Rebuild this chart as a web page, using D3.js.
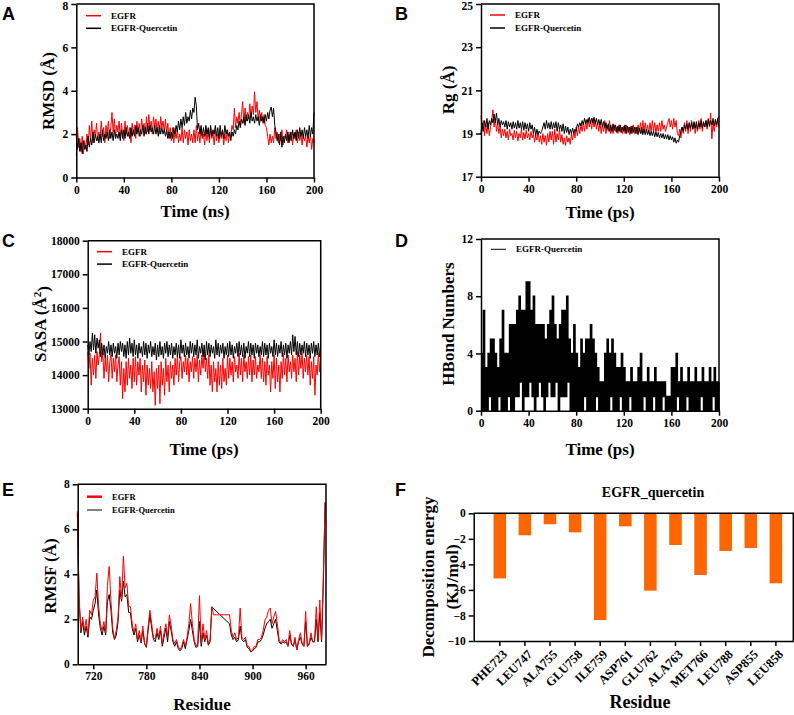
<!DOCTYPE html>
<html>
<head>
<meta charset="utf-8">
<script src="https://cdn.jsdelivr.net/npm/d3@7"></script>
<style>
body{margin:0;background:#fff;}
svg text{font-family:"Liberation Serif","Times New Roman",serif;font-weight:bold;fill:#000;}
svg text.tag{font-family:"Liberation Sans",Arial,sans-serif;font-size:18px;}
</style>
</head>
<body>
<script>
// A: RMSD (Å), one sample per ns
const rmsdApo = [1.0,2.3,1.4,1.8,1.2,1.9,1.1,1.7,1.3,2.0, 1.5,2.4,1.7,2.6,1.6,2.2,1.9,2.5,1.7,2.1,
  1.8,2.6,1.9,2.3,1.6,2.4,2.0,2.6,1.8,2.3, 3.0,2.1,2.7,1.9,2.4,2.1,2.6,1.8,2.5,2.0,
  1.7,2.6,2.0,2.4,1.9,2.3,1.6,2.5,2.0,2.4, 1.8,2.6,2.1,2.5,1.9,2.7,2.2,2.5,2.0,2.8,
  2.1,2.9,2.2,2.6,2.0,2.8,2.3,2.7,2.1,2.6, 2.0,2.8,2.3,2.6,2.1,2.7,2.0,2.5,1.8,2.3,
  1.7,2.3,1.6,2.1,1.8,2.2,1.6,2.0,1.7,2.3, 1.6,2.2,1.8,2.1,1.5,2.2,1.7,2.0,1.6,2.2,
  1.6,2.4,1.7,2.1,1.6,2.3,1.8,2.0,1.5,2.2, 1.7,2.2,1.6,2.3,1.8,2.1,1.5,2.2,1.7,2.0,
  1.6,2.1,1.8,2.2,1.5,2.0,1.7,2.2,1.6,2.0, 1.9,2.4,2.2,3.2,2.3,2.8,2.5,3.0,2.4,2.9,
  3.5,2.5,3.2,2.6,3.0,2.7,3.4,2.8,3.3,2.9, 3.95,3.0,3.5,2.7,3.1,2.6,3.0,2.5,2.9,2.4,
  2.3,1.9,1.5,2.0,1.6,1.9,1.6,2.3,1.8,2.1, 1.6,2.0,1.7,2.2,1.5,1.9,1.8,2.2,1.6,2.0,
  1.7,2.1,1.5,2.0,1.8,2.2,1.6,2.1,1.7,2.0, 1.5,2.0,1.7,1.9,1.4,1.9,1.6,2.0,1.3,1.8, 1.6];
const rmsdComplex = [1.9,1.3,1.8,1.2,1.6,1.1,1.7,1.3,1.5,1.2, 1.9,1.4,1.8,1.5,2.1,1.6,2.0,1.7,1.9,1.6,
  2.0,1.6,2.2,1.7,2.0,1.8,2.1,1.7,2.2,1.8, 2.1,1.7,2.2,1.8,2.0,1.8,2.1,1.7,2.2,1.8,
  2.2,1.8,2.3,1.9,2.1,1.8,2.3,1.9,2.2,1.9, 2.4,2.0,2.3,1.9,2.2,2.0,2.4,1.9,2.3,2.0,
  2.5,2.0,2.4,2.1,2.3,2.0,2.4,2.0,2.3,1.9, 2.4,2.0,2.3,2.0,2.2,1.9,2.2,1.8,2.1,1.8,
  2.1,1.8,2.3,2.0,2.4,2.1,2.6,2.2,2.7,2.3, 2.8,2.4,3.0,2.5,2.8,2.6,3.1,2.7,3.2,3.0,
  3.7,3.3,2.2,2.5,2.0,2.4,1.9,2.3,1.9,2.4, 2.0,2.3,1.8,2.4,1.9,2.2,2.0,2.4,1.9,2.3,
  1.8,2.4,1.9,2.2,1.8,2.4,2.0,2.2,1.9,2.1, 1.7,2.1,1.9,2.2,2.0,2.4,2.2,2.6,2.3,2.7,
  2.5,2.8,2.4,2.9,2.6,2.9,2.5,3.0,2.6,2.8, 2.5,2.9,2.6,2.8,2.4,2.9,2.6,2.8,2.5,2.9,
  2.6,3.0,2.7,3.1,3.25,2.8,3.2,2.4,2.1,1.7, 2.0,1.5,2.1,1.4,1.9,1.6,2.0,1.7,2.1,1.6,
  2.1,1.7,2.2,1.8,2.1,1.7,2.2,1.8,2.3,1.9, 2.2,1.8,2.3,1.9,2.2,1.8,2.4,1.9,2.3,2.0, 3.0];

// B: Rg (Å)
const rgApo = [19.85,19.1,19.6,18.9,19.4,19.0,19.5,18.9,19.3,19.6, 20.1,19.3,19.7,19.1,19.5,19.0,19.3,18.8,19.2,18.9,
  19.2,18.8,19.1,18.7,19.2,18.9,19.0,18.7,19.15,18.8, 19.1,18.65,19.0,18.8,19.2,18.7,19.05,18.75,19.15,18.8,
  19.0,18.7,19.1,18.8,19.0,18.6,18.9,18.7,19.1,18.6, 18.9,18.5,19.0,18.6,18.9,18.45,19.0,18.6,19.1,18.7,
  19.1,18.5,19.2,18.6,19.0,18.7,19.2,18.6,18.95,18.5, 18.8,18.45,18.9,18.6,18.8,18.5,19.0,18.7,19.1,18.8,
  19.3,18.9,19.3,19.0,19.4,19.1,19.5,19.1,19.6,19.2, 19.7,19.3,19.6,19.2,19.7,19.3,19.6,19.2,19.5,19.1,
  19.5,19.0,19.4,19.1,19.6,19.0,19.4,19.1,19.6,19.0, 19.3,19.0,19.4,19.1,19.3,19.0,19.4,19.05,19.3,19.0,
  19.35,19.0,19.4,19.05,19.3,18.95,19.35,19.0,19.4,19.0, 19.3,19.0,19.4,19.1,19.5,19.0,19.6,19.1,19.5,19.05,
  19.4,19.0,19.5,19.1,19.6,19.1,19.5,19.0,19.4,19.1, 19.5,19.1,19.6,19.2,19.4,19.1,19.3,19.5,19.7,19.3,
  19.6,19.2,19.7,19.3,19.6,19.0,18.9,19.2,18.8,19.3, 19.0,19.5,19.1,19.6,19.0,19.5,19.1,19.6,19.2,19.5,
  19.0,19.4,19.1,19.6,19.2,19.7,19.1,19.5,19.3,19.6, 19.2,19.7,19.3,19.95,18.75,19.5,19.1,19.6,19.3,19.7, 19.3];
const rgComplex = [19.0,19.5,19.1,19.6,19.3,19.7,19.2,19.6,19.4,19.7, 19.5,19.9,19.5,19.95,19.4,19.7,19.3,19.6,19.4,19.55,
  19.3,19.6,19.2,19.55,19.3,19.5,19.2,19.55,19.25,19.5, 19.2,19.6,19.25,19.5,19.2,19.55,19.15,19.5,19.2,19.45,
  19.1,19.5,19.2,19.4,19.0,19.3,18.9,19.2,18.95,19.1, 19.0,19.1,19.3,19.5,19.2,19.6,19.25,19.5,19.2,19.55,
  19.2,19.5,19.25,19.55,19.1,19.5,19.2,19.4,19.1,19.45, 19.0,19.35,19.05,19.3,18.95,19.2,19.0,19.25,19.0,19.2,
  19.1,19.45,19.3,19.5,19.35,19.6,19.4,19.7,19.45,19.65, 19.5,19.75,19.45,19.7,19.5,19.75,19.45,19.7,19.4,19.65,
  19.4,19.65,19.3,19.55,19.25,19.5,19.2,19.45,19.1,19.4, 19.1,19.45,19.15,19.4,19.05,19.35,19.1,19.4,19.05,19.3,
  19.1,19.4,19.0,19.35,19.05,19.3,19.0,19.35,19.05,19.3, 19.0,19.3,18.95,19.25,19.0,19.3,18.95,19.2,18.95,19.2,
  18.95,19.15,18.9,19.1,18.9,19.1,18.85,19.05,18.85,19.05, 18.8,19.0,18.8,19.0,18.75,18.95,18.75,18.95,18.7,18.9,
  18.7,18.85,18.6,18.8,18.55,18.7,18.6,18.9,19.1,19.3, 19.1,19.4,19.2,19.45,19.2,19.5,19.25,19.5,19.2,19.55,
  19.25,19.55,19.2,19.5,19.3,19.6,19.25,19.55,19.3,19.6, 19.3,19.65,19.35,19.6,19.4,19.7,19.35,19.65,19.4,19.7, 19.8];

// C: SASA (Å²)
const sasaApo = [14700,14200,14650,13700,14500,14000,14600,13900,14700,14300, 14600,15250,14400,14650,13900,14500,14100,14600,13800,14400,
  14600,13900,14500,14100,14600,13800,14300,14550,13700,14400, 13300,14200,13500,14400,13700,14500,13900,14300,13600,14500,
  13800,14550,13700,14400,14000,14500,13500,14300,13800,14450, 13400,14300,13700,14200,13600,14400,13500,14100,13100,14200,
  13600,14300,13150,14400,13700,14200,13400,14500,13800,14300, 13500,14400,13900,14300,13700,14500,14000,14600,13800,14400,
  14550,13900,14400,14100,14600,14000,14500,13800,14400,14100, 14550,13900,14500,14100,14600,13800,14450,14000,14600,14200,
  14700,14100,14500,13900,14600,13700,14300,13500,14400,13800, 14200,13500,14400,13700,14300,13600,14500,13800,14200,13700,
  14600,13900,14500,14000,14400,13800,14550,14100,14300,13900, 14650,14000,14500,13800,14600,14100,14400,13900,14550,14000,
  14600,13800,14450,14000,14550,13900,14300,14100,14600,13900, 14500,13800,14400,13700,14550,14000,14300,13500,14400,13900,
  14600,13600,14500,13800,14300,13500,14400,13900,14650,14000, 14500,13800,14600,14100,14400,13900,14600,14100,14500,13800,
  14700,14000,14600,14200,14650,13900,14500,14100,14600,14000, 14550,13700,14400,13900,14550,13400,14300,14000,14650,14100, 14600];
const sasaComplex = [14900,14600,15000,14700,15250,14750,15200,14650,15100,14800, 15050,14550,14950,14600,14900,14500,14850,14650,15000,14600,
  14900,14550,14950,14650,14850,14500,14950,14600,15000,14700, 14950,14550,14900,14500,15000,14600,15100,14650,14950,14550,
  15050,14600,14900,14500,14950,14650,14850,14550,15000,14600, 14950,14500,14900,14650,15000,14550,14850,14600,14950,14450,
  14900,14550,15000,14600,14850,14500,14950,14650,15000,14550, 14900,14600,14950,14500,14850,14600,14950,14550,14900,14500,
  15050,14650,14900,14550,14950,14600,14850,14500,15000,14650, 14950,14550,14900,14600,15050,14500,14850,14650,14950,14550,
  14900,14450,15000,14600,14950,14550,14900,14650,14850,14500, 15050,14600,14950,14550,14900,14650,14950,14500,14850,14600,
  14950,14550,15000,14600,14900,14500,14850,14650,14950,14550, 15000,14600,14900,14550,14950,14500,14850,14650,15000,14550,
  14950,14600,14900,14500,14950,14650,14900,14550,14850,14600, 15000,14550,14950,14600,14900,14500,14950,14650,14850,14550,
  15050,14600,14950,14550,14900,14650,15000,14550,14900,14600, 14950,14500,14900,14650,15000,14600,15200,14700,15150,14600,
  15000,14550,14950,14600,14900,14650,15000,14550,14950,14600, 14900,14500,14950,14650,15000,14550,14900,14600,14950,14550, 14900];

// D: H-bond count, one sample per ps
const hbondComplex = [4,0,7,0,3,0,4,1,5,0, 5,0,4,0,3,1,5,0,7,0, 4,0,4,1,6,0,6,0,6,1, 7,1,8,2,7,0,7,1,9,1,
  9,2,7,1,8,0,6,1,6,2, 6,1,6,0,5,1,6,2,7,1, 8,1,6,2,5,0,6,1,7,1, 7,1,8,2,5,0,4,0,6,0,
  4,0,3,0,5,0,4,1,5,0, 5,0,6,0,5,0,4,1,3,0, 2,0,2,0,4,0,5,0,4,1, 5,0,4,0,3,0,3,1,4,0,
  3,0,2,0,2,1,3,0,2,0, 2,0,3,0,4,0,2,1,2,0, 3,0,2,0,2,1,3,0,2,0, 2,0,2,1,2,0,1,0,1,0,
  3,0,3,0,4,1,2,0,3,0, 2,0,2,1,3,0,2,0,2,0, 3,0,2,0,2,1,3,0,2,0, 2,0,3,0,2,1,3,0,2,0, 2];

// E: RMSF (Å), residues 702..982 every 2, null = missing residues
const rmsfApo = [6.8,2.9,1.5,2.1,1.5,2.0,1.3,2.4,2.2,2.85, 3.0,4.05,2.6,1.8,1.5,1.9,1.4,3.5,4.35,2.8,
  1.6,1.15,1.5,2.1,3.9,2.9,4.8,3.4,3.6,2.56, 2.56,1.8,1.4,1.8,1.1,1.5,1.0,1.7,0.93,0.8,
  1.7,2.4,1.8,1.2,1.1,1.6,1.2,1.7,0.93,1.4, 1.8,1.2,2.2,1.7,1.1,0.93,1.1,0.8,0.65,0.8,
  1.1,0.8,1.2,1.8,2.7,1.8,1.1,0.8,0.93,3.05, 0.93,1.8,1.1,1.5,0.93,1.1,2.56,2.2,null,null,
  null,null,null,null,null,null,2.2,1.5,1.2,1.4, 1.1,1.2,2.5,1.2,1.1,1.2,0.8,0.8,0.56,0.64,
  0.8,0.8,1.1,1.1,1.2,1.5,1.97,2.1,2.4,2.5, 1.8,2.1,2.35,1.8,1.1,0.93,1.1,1.0,1.1,0.8,
  1.5,0.93,0.8,1.2,0.64,1.1,1.4,0.93,0.8,2.35, 0.8,0.93,1.4,1.0,1.0,2.56,1.1,2.86,1.1,4.0, 7.2];
const rmsfComplex = [6.7,2.9,1.4,1.9,1.3,1.7,1.2,2.1,2.0,2.4, 2.7,3.3,2.2,1.6,1.3,1.7,1.3,2.8,3.1,2.4,
  1.4,1.1,1.3,1.9,3.3,2.8,3.7,3.0,3.1,2.3, 2.3,1.6,1.3,1.6,1.0,1.3,0.95,1.5,0.9,0.75,
  1.5,2.2,1.6,1.1,1.0,1.4,1.1,1.5,0.8,1.2, 1.6,1.0,1.9,1.5,1.0,0.8,1.0,0.7,0.6,0.7,
  1.0,0.7,1.1,1.5,2.0,1.5,1.0,0.75,0.8,1.9, 0.8,1.4,1.0,1.3,0.85,1.0,2.55,null,null,null,
  null,null,null,null,null,null,1.8,1.3,1.1,1.2, 1.0,1.1,1.7,1.1,1.0,1.1,0.75,0.7,0.55,0.6,
  0.7,0.75,1.0,1.0,1.1,1.3,1.6,1.8,1.9,2.0, 1.6,1.8,2.0,1.5,1.0,0.9,1.0,0.95,1.0,0.8,
  1.3,0.9,0.8,1.1,0.65,1.0,1.2,0.9,0.8,1.9, 0.8,0.9,1.2,1.0,1.0,2.0,1.0,2.3,1.0,3.5, 7.2];

// F: per-residue decomposition energy (KJ/mol)
const residues = ['PHE723','LEU747','ALA755','GLU758','ILE759','ASP761','GLU762','ALA763','MET766','LEU788','ASP855','LEU858'];
const energies = [-5.1,-1.72,-0.86,-1.49,-8.36,-1.02,-6.06,-2.48,-4.83,-2.95,-2.72,-5.48];

const RED = '#ff0000', BLACK = '#000000', ORANGE = '#ff6600';

const svg = d3.select('body').append('svg')
    .attr('width', 794)
    .attr('height', 715);

function axes(x, y, xTicks, yTicks, fs){
    const g = svg.append('g');
    const [x0, x1] = x.range(), [y0, y1] = y.range();
    const xa = g.append('g')
        .attr('transform', `translate(0,${y0})`)
        .call(d3.axisBottom(x).tickValues(xTicks).tickSize(5).tickSizeOuter(0).tickPadding(3));
    const ya = g.append('g')
        .attr('transform', `translate(${x0},0)`)
        .call(d3.axisLeft(y).tickValues(yTicks).tickFormat(d3.format('d')).tickSize(5).tickSizeOuter(0).tickPadding(3));
    [xa, ya].forEach(a => {
        a.selectAll('path,line').attr('stroke', '#000').attr('stroke-width', 1.5);
        a.selectAll('text').style('font-size', fs + 'px');
    });
    // keep the topmost label inside the page
    ya.selectAll('.tick text').filter(d => y(d) < 8).attr('dy', '0.52em');
    g.append('path')
        .attr('d', `M${x0},${y1}H${x1}V${y0}`)
        .attr('fill', 'none')
        .attr('stroke', '#000')
        .attr('stroke-width', 1.5);
    return {xa, ya};
}

function series(values, x, y, color, xOf, curve, w){
    const pts = values.map((v, i) => [xOf(i), v]).filter(d => d[1] !== null);
    svg.append('path')
        .datum(pts)
        .attr('fill', 'none')
        .attr('stroke', color)
        .attr('stroke-width', w || 1)
        .attr('d', d3.line().x(d => x(d[0])).y(d => y(d[1])).curve(curve || d3.curveLinear));
}

function legend(x, y, items, fs, gap){
    items.forEach((it, i) => {
        svg.append('line')
            .attr('x1', x).attr('x2', x + 15)
            .attr('y1', y + i * gap).attr('y2', y + i * gap)
            .attr('stroke', it.color)
            .attr('stroke-width', it.w || 1.5);
        svg.append('text')
            .attr('x', x + 25).attr('y', y + i * gap)
            .attr('dy', '0.35em')
            .style('font-size', fs + 'px')
            .text(it.label);
    });
}

function yTitle(cx, cy, txt, fs){
    return svg.append('text')
        .attr('transform', `translate(${cx},${cy}) rotate(-90)`)
        .attr('text-anchor', 'middle')
        .attr('dy', '0.35em')
        .style('font-size', fs + 'px')
        .text(txt);
}

function xTitle(cx, by, txt, fs){
    svg.append('text')
        .attr('x', cx).attr('y', by)
        .attr('text-anchor', 'middle')
        .style('font-size', fs + 'px')
        .text(txt);
}

function tag(x, y, t){
    svg.append('text').attr('class', 'tag').attr('x', x).attr('y', y).text(t);
}

const timeTicks = [0, 40, 80, 120, 160, 200];
const both = [{label: 'EGFR', color: RED}, {label: 'EGFR-Quercetin', color: BLACK}];

/* A ------------------------------------------------ */
{
    const x = d3.scaleLinear().domain([0, 200]).range([76.3, 314]);
    const y = d3.scaleLinear().domain([0, 8]).range([177.5, 4]);
    series(rmsdApo, x, y, RED, i => i);
    series(rmsdComplex, x, y, BLACK, i => i);
    axes(x, y, timeTicks, [0, 2, 4, 6, 8], 11.5);
    legend(86, 15.7, both, 9, 12.6);
    yTitle(48, 91, 'RMSD (Å)', 17);
    xTitle(195, 217, 'Time (ns)', 17);
    tag(2, 20, 'A');
}

/* B ------------------------------------------------ */
{
    const x = d3.scaleLinear().domain([0, 200]).range([481, 719]);
    const y = d3.scaleLinear().domain([17, 25]).range([176.7, 4]);
    series(rgApo, x, y, RED, i => i);
    series(rgComplex, x, y, BLACK, i => i);
    axes(x, y, timeTicks, [17, 19, 21, 23, 25], 11.5);
    legend(490, 15, both, 9, 13);
    yTitle(448, 90, 'Rg (Å)', 17);
    xTitle(600, 218, 'Time (ps)', 17);
    tag(395, 20, 'B');
}

/* C ------------------------------------------------ */
{
    const x = d3.scaleLinear().domain([0, 200]).range([87.7, 320.7]);
    const y = d3.scaleLinear().domain([13000, 18000]).range([408.7, 240.7]);
    series(sasaApo, x, y, RED, i => i);
    series(sasaComplex, x, y, BLACK, i => i);
    axes(x, y, timeTicks, d3.range(13000, 18001, 1000), 11.5);
    legend(97, 251.7, both, 9, 12.4);
    const t = yTitle(40, 324, '', 17);
    t.append('tspan').text('SASA (Å');
    t.append('tspan').attr('dy', '-0.45em').style('font-size', '11px').text('2');
    t.append('tspan').attr('dy', '0.45em').text(')');
    xTitle(204, 455, 'Time (ps)', 17);
    tag(2, 247, 'C');
}

/* D ------------------------------------------------ */
{
    const x = d3.scaleLinear().domain([0, 200]).range([481, 719]);
    const y = d3.scaleLinear().domain([0, 12]).range([410.7, 239]);
    series(hbondComplex, x, y, BLACK, i => i, d3.curveStepAfter, 1.5);
    axes(x, y, timeTicks, [0, 4, 8, 12], 11.5);
    legend(491, 249.3, [{label: 'EGFR-Quercetin', color: BLACK, w: 1}], 9, 0);
    yTitle(448, 324, 'HBond Numbers', 17);
    xTitle(600, 455, 'Time (ps)', 17);
    tag(395, 247, 'D');
}

/* E ------------------------------------------------ */
{
    const x = d3.scaleLinear().domain([702.4, 983]).range([77.7, 326]);
    const y = d3.scaleLinear().domain([0, 8]).range([664.3, 484.3]);
    series(rmsfComplex, x, y, BLACK, i => 702 + i * 2);
    series(rmsfApo, x, y, RED, i => 702 + i * 2);
    axes(x, y, [720, 780, 840, 900, 960], [0, 2, 4, 6, 8], 11.5);
    legend(87, 496.7, [{label: 'EGFR', color: RED, w: 2.5}, {label: 'EGFR-Quercetin', color: BLACK, w: 1}], 8.5, 13.3);
    yTitle(50, 576, 'RMSF (Å)', 17);
    xTitle(202, 710, 'Residue', 17);
    tag(2, 496, 'E');
}

/* F ------------------------------------------------ */
{
    const x = d3.scaleBand().domain(residues).range([473.7, 793.3])
        .paddingInner(0.5).paddingOuter(0.617).align(0.64);
    const y = d3.scaleLinear().domain([0, -10]).range([513.3, 641]);
    svg.append('g').selectAll('rect')
        .data(energies)
        .enter().append('rect')
        .attr('x', (d, i) => x(residues[i]))
        .attr('width', x.bandwidth())
        .attr('y', y(0))
        .attr('height', d => y(d) - y(0))
        .attr('fill', ORANGE);
    const {xa} = axes(x, d3.scaleLinear().domain([-10, 0]).range([641, 513.3]), residues, [0, -2, -4, -6, -8, -10], 11.5);
    xa.selectAll('text')
        .attr('text-anchor', 'end')
        .attr('x', 0).attr('y', 0).attr('dy', '0.35em')
        .attr('transform', 'translate(5,11) rotate(-45)')
        .style('font-size', '12.5px');
    svg.append('text')
        .attr('x', 653).attr('y', 497)
        .attr('text-anchor', 'middle')
        .style('font-size', '14px')
        .text('EGFR_quercetin');
    yTitle(428, 577, 'Decomposition energy', 17);
    yTitle(452, 577, '(KJ/mol)', 17);
    xTitle(640, 708, 'Residue', 18);
    tag(395, 496, 'F');
}
</script>
</body>
</html>
